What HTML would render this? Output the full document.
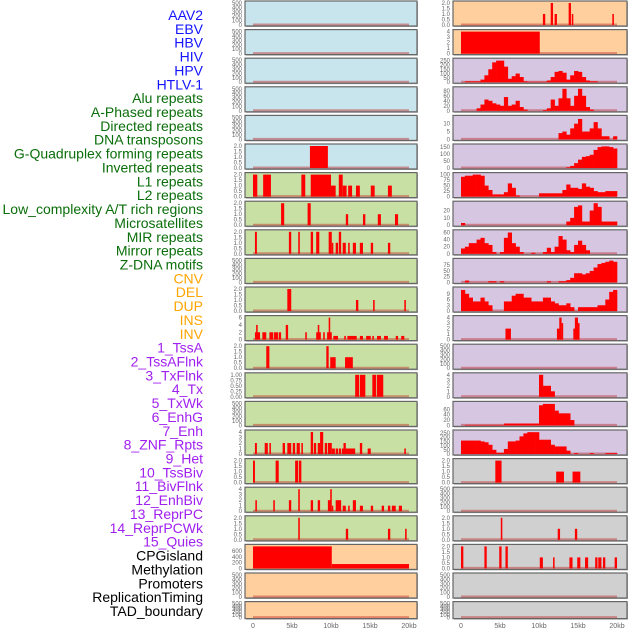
<!DOCTYPE html>
<html><head><meta charset="utf-8"><style>
body{margin:0;width:630px;height:630px;background:#fff;overflow:hidden;font-family:"Liberation Sans",sans-serif}
svg{position:absolute;left:0;top:0}
</style></head><body>
<svg id="chart" width="630" height="630"></svg>
<script>
const labels=["AAV2","EBV","HBV","HIV","HPV","HTLV-1","Alu repeats","A-Phased repeats","Directed repeats","DNA transposons","G-Quadruplex forming repeats","Inverted repeats","L1 repeats","L2 repeats","Low_complexity A/T rich regions","Microsatellites","MIR repeats","Mirror repeats","Z-DNA motifs","CNV","DEL","DUP","INS","INV","1_TssA","2_TssAFlnk","3_TxFlnk","4_Tx","5_TxWk","6_EnhG","7_Enh","8_ZNF_Rpts","9_Het","10_TssBiv","11_BivFlnk","12_EnhBiv","13_ReprPC","14_ReprPCWk","15_Quies","CPGisland","Methylation","Promoters","ReplicationTiming","TAD_boundary"];
const labelColors=["#1414ff","#1414ff","#1414ff","#1414ff","#1414ff","#1414ff","#0a6e0a","#0a6e0a","#0a6e0a","#0a6e0a","#0a6e0a","#0a6e0a","#0a6e0a","#0a6e0a","#0a6e0a","#0a6e0a","#0a6e0a","#0a6e0a","#0a6e0a","#ffa500","#ffa500","#ffa500","#ffa500","#ffa500","#a020f0","#a020f0","#a020f0","#a020f0","#a020f0","#a020f0","#a020f0","#a020f0","#a020f0","#a020f0","#a020f0","#a020f0","#a020f0","#a020f0","#a020f0","#000","#000","#000","#000","#000"];
const xTicks=[0,5,10,15,20];
const xTickLabels=["0","5kb","10kb","15kb","20kb"];
const t500=[0,100,200,300,400,500];
const t2=[0,0.5,1,1.5,2];
const t4=[0,1,2,3,4];
// left column bars [startKb,endKb,value]
const lRow5=[[7.3,9.6,2]];
const lRow6=[[0,0.55,2],[1.3,2.3,2],[6.2,6.7,2],[7.4,10,2],[10,10.6,1],[11,11.5,2],[11.5,12,1],[12.2,12.7,1],[13.2,13.7,1],[15.1,15.6,1],[17.3,17.8,1]];
const lRow7=[[3.6,4.0,2],[7.0,7.4,2],[11.9,12.2,1],[14.1,14.4,1],[16.0,16.4,1],[18.2,18.6,1]];
const lRow8=[[0.25,0.5,2],[4.6,4.9,2],[5.8,6.0,2],[7.4,7.7,2],[8.1,8.5,2],[9.7,10.1,2],[10.1,10.3,1],[10.6,10.9,1],[11,11.3,2],[11.5,11.9,1],[12.2,12.4,1],[12.8,13.2,1],[13.7,14.1,1],[15.1,15.4,1],[17.3,17.6,1]];
const lRow10=[[4.4,4.9,2],[13.2,13.5,1],[15.4,15.6,1],[19.4,19.6,1]];
const lRow11=[[0.25,0.9,2],[0.4,0.6,4],[1.2,1.7,2],[2.1,2.6,2],[2.7,3.2,2],[3.3,3.6,2],[4.2,4.5,4],[6.7,6.9,2],[8.1,8.7,2],[8.3,8.5,4],[9.0,9.2,2],[9.5,10.1,2],[9.7,9.9,6],[10.3,10.9,1],[11.7,11.9,1],[12.1,13.3,1],[13.7,14.1,1],[14.5,15.1,1],[15.3,15.5,1],[15.9,16.4,1],[16.8,17.3,1],[18.3,18.6,1],[19.0,19.4,1]];
const lRow12=[[1.7,2.1,2],[9.4,9.7,2],[9.9,10.6,1],[11.8,12.8,1]];
const lRow13=[[13.1,13.6,1],[13.7,14.4,1],[15.3,15.8,1],[15.9,16.7,1]];
const lRow15=[[0.25,0.5,2],[1.5,1.9,2],[2.1,2.3,2],[3.8,4.1,2],[4.4,4.9,2],[5.1,5.4,2],[5.6,6.0,2],[6.2,6.4,2],[7.4,7.7,4],[7.8,8.1,2],[8.3,8.6,2],[8.6,9.0,4],[9.2,9.5,2],[9.6,10.1,2],[10.1,10.5,1],[10.6,10.9,1],[11,11.3,1],[11.4,13.1,1],[11.6,11.9,2],[13.7,14,2],[14.7,15.1,1],[19.4,19.6,1]];
const lRow16=[[0,0.25,2],[2.9,3.3,2],[5.4,5.8,2],[5.9,6.2,2]];
const lRow17=[[0.3,0.5,2],[2.6,2.8,2],[4.6,4.9,2],[5.8,6.0,4],[7.4,7.7,2],[8.3,8.6,2],[9.6,10,2],[9.9,10.1,4],[10.1,10.3,1],[10.6,11.3,2],[11.5,11.9,1],[12.2,12.4,1],[12.8,13.2,2],[13.7,14.1,1],[15.1,15.4,1],[16.5,16.8,1],[17.3,17.6,1],[17.8,18.3,1],[18.7,19.1,1]];
const lRow18=[[5.8,6.0,2],[11.9,12.2,1],[17.3,17.6,1],[19.5,19.7,1]];
const lRow19=[[0,10.1,760],[10.1,20,150]];
// right column bars
const rRow0=[[10.5,10.8,1],[11.5,11.8,2],[12,12.3,1],[13.8,14.1,2],[14.2,14.4,1],[19.4,19.6,1]];
const rRow1=[[0,10.1,4]];
const rRow11=[[5.7,6.4,2],[12.3,12.9,2],[12.6,12.9,4],[12.9,13.1,3],[14.4,15.0,2],[14.6,15.0,4],[15.0,15.2,3]];
const rRow16=[[4.4,5.2,2],[12.2,13.2,1],[14.3,15.3,1]];
const rRow18=[[5.1,5.3,2],[12.4,12.7,1],[14.6,14.9,1]];
const rRow19=[[0,0.3,2],[3.0,3.3,2],[4.9,5.2,2],[5.7,6.0,2],[10.1,10.5,1],[11.8,12,1],[13.9,14.3,1],[14.9,15.3,1],[15.9,16.3,1],[17.2,17.5,1],[17.6,18,1],[18.2,18.5,1],[19.7,20,1]];
// right column binned profiles (0.5kb bins)
const rRow2=[0,10,10,10,10,30,80,150,230,250,250,180,40,70,100,60,10,5,5,5,5,5,20,60,120,130,110,30,80,130,120,60,20,10,10,0,0,0,0,0];
const rRow3=[0,0,0,0,10,25,45,40,30,25,20,55,20,25,40,15,5,0,0,0,0,3,10,45,20,50,90,50,20,60,90,60,15,5,0,0,0,0,0,0];
const rRow4=[0,0,0,0,0,0,0,0,0,0,0,0,0,0,0,0,0,0,0,0,0,0,0,0,0,4,5,3,7,10,13,5,5,7,11,7,2,2,0,2];
const rRow5=[0,0,0,0,0,0,0,0,0,0,0,0,0,0,0,0,0,0,0,0,0,0,0,0,0,0,0,5,15,35,60,80,85,95,130,150,155,155,150,140];
const rRow6=[90,95,95,100,100,95,50,30,10,10,10,20,60,40,5,0,0,0,0,0,15,15,15,15,15,15,30,55,40,40,35,60,45,40,25,20,20,25,25,25];
const rRow7=[3,0,0,0,0,0,0,0,0,0,0,0,0,0,0,0,0,0,0,0,0,0,0,0,0,0,0,5,10,25,27,5,5,20,30,25,5,5,5,5];
const rRow8=[15,20,30,30,40,45,30,25,5,0,5,45,60,30,20,5,0,0,3,0,0,5,17,5,20,50,40,10,5,25,37,25,10,0,0,0,0,0,0,0];
const rRow9=[0,8,0,0,0,0,0,5,5,0,5,0,0,0,0,0,0,0,0,0,0,0,5,0,0,5,5,10,20,40,40,35,40,50,65,80,85,90,95,90];
const rRow10=[11,9,7,5,5,7,5,3,0,0,0,5,5,8,9,9,7,7,5,5,5,7,7,5,4,3,3,4,2,0,2,2,2,2,2,3,3,6,10,11];
const rRow13=[0,0,0,0,0,0,0,0,0,0,0,0,0,0,0,0,0,0,0,0,4,2,2,1,0,0,0,0,0,0,0,0,0,0,0,0,0,0,0,0];
const rRow14=[0,2,2,2,2,2,2,2,2,2,2,7,7,7,7,7,7,7,7,7,75,80,80,80,55,45,45,45,20,0,0,0,0,0,0,0,0,0,0,0];
const rRow15=[160,160,160,160,160,150,140,110,50,15,15,60,150,150,160,210,245,260,260,260,170,170,170,110,90,90,90,40,0,10,0,0,0,10,0,0,0,10,10,10];

const BLUE="#c8e4ec",GREEN="#c8e0a4",ORANGE="#ffd09e",PURPLE="#d6c6e2",GRAY="#d0d0d0";
const panels=[
{c:0,r:0,bg:BLUE,t:t500,m:500},{c:0,r:1,bg:BLUE,t:t500,m:500},{c:0,r:2,bg:BLUE,t:t500,m:500},{c:0,r:3,bg:BLUE,t:t500,m:500},{c:0,r:4,bg:BLUE,t:t500,m:500},
{c:0,r:5,bg:BLUE,t:t2,m:2,bars:lRow5},{c:0,r:6,bg:GREEN,t:t2,m:2,bars:lRow6},{c:0,r:7,bg:GREEN,t:t2,m:2,bars:lRow7},{c:0,r:8,bg:GREEN,t:t2,m:2,bars:lRow8},
{c:0,r:9,bg:GREEN,t:t500,m:500},{c:0,r:10,bg:GREEN,t:t2,m:2,bars:lRow10},{c:0,r:11,bg:GREEN,t:[0,2,4,6],m:6,bars:lRow11},{c:0,r:12,bg:GREEN,t:t2,m:2,bars:lRow12},
{c:0,r:13,bg:GREEN,t:[0,0.25,0.5,0.75,1],m:1,d:2,bars:lRow13},{c:0,r:14,bg:GREEN,t:t500,m:500},{c:0,r:15,bg:GREEN,t:t4,m:4,bars:lRow15},{c:0,r:16,bg:GREEN,t:t2,m:2,bars:lRow16},
{c:0,r:17,bg:GREEN,t:t4,m:4,bars:lRow17},{c:0,r:18,bg:GREEN,t:t2,m:2,bars:lRow18},{c:0,r:19,bg:ORANGE,t:[0,200,400,600],m:760,bars:lRow19},{c:0,r:20,bg:ORANGE,t:t500,m:500},{c:0,r:21,bg:ORANGE,t:t500,m:500},
{c:1,r:0,bg:ORANGE,t:t2,m:2,bars:rRow0},{c:1,r:1,bg:ORANGE,t:t4,m:4,bars:rRow1},{c:1,r:2,bg:PURPLE,t:[0,50,100,150,200,250],m:255,bins:rRow2},
{c:1,r:3,bg:PURPLE,t:[0,20,40,60,80],m:88,bins:rRow3},{c:1,r:4,bg:PURPLE,t:[0,5,10],m:14,bins:rRow4},{c:1,r:5,bg:PURPLE,t:[0,50,100,150],m:158,bins:rRow5},
{c:1,r:6,bg:PURPLE,t:[0,25,50,75,100],m:100,bins:rRow6},{c:1,r:7,bg:PURPLE,t:[0,10,20],m:30,bins:rRow7},{c:1,r:8,bg:PURPLE,t:[0,20,40,60],m:62,bins:rRow8},
{c:1,r:9,bg:PURPLE,t:[0,25,50,75],m:96,bins:rRow9},{c:1,r:10,bg:PURPLE,t:[0,3,6,9],m:11.5,bins:rRow10},{c:1,r:11,bg:PURPLE,t:t4,m:4,bars:rRow11},
{c:1,r:12,bg:PURPLE,t:t500,m:500},{c:1,r:13,bg:PURPLE,t:t4,m:4,bins:rRow13},{c:1,r:14,bg:PURPLE,t:[0,20,40,60],m:82,bins:rRow14},{c:1,r:15,bg:PURPLE,t:[0,50,100,150,200,250],m:262,bins:rRow15},
{c:1,r:16,bg:GRAY,t:t2,m:2,bars:rRow16},{c:1,r:17,bg:GRAY,t:t500,m:500},{c:1,r:18,bg:GRAY,t:t2,m:2,bars:rRow18},{c:1,r:19,bg:GRAY,t:t2,m:2,bars:rRow19},
{c:1,r:20,bg:GRAY,t:t500,m:500},{c:1,r:21,bg:GRAY,t:t500,m:500}
];
const NS="http://www.w3.org/2000/svg";
const svg=document.getElementById('chart');
function mk(tag,attrs,parent){const e=document.createElementNS(NS,tag);for(const k in attrs)e.setAttribute(k,attrs[k]);(parent||svg).appendChild(e);return e;}
// labels
labels.forEach((s,i)=>{
  const t=mk('text',{x:203,y:20+i*13.86,'text-anchor':'end','font-size':'14',fill:labelColors[i]});
  t.textContent=s;
  
  
});
const colX=[245,453],colW=[172,174],x0=[253,461],kbPx=7.8;
function xs(c,kb){return x0[c]+kb*kbPx;}
panels.forEach(p=>{
  const top=1+28.6*p.r, h=p.r===21?17:25, left=colX[p.c], w=colW[p.c];
  const g=mk('g',{});
  
  
  mk('rect',{x:left+1,y:top+1,width:w,height:h,fill:'#aaa'},g);
  mk('rect',{x:left,y:top,width:w,height:h,fill:p.bg,stroke:'#666','stroke-width':1.2},g);
  const bot=top+h-1, span=h-3;
  const ys=v=>bot-(v/p.m)*span;
  // ticks
  p.t.forEach(v=>{
    const tt=mk('text',{x:left-3,y:ys(v)+2,'text-anchor':'end','font-size':'6',fill:'#666'},g);
    tt.textContent=p.m<=6||p.d?v.toFixed(p.d||1):String(v);
    if(p.t===t4||p.m===6) tt.textContent=String(v);
    
    
  });
  mk('line',{x1:xs(p.c,0),x2:xs(p.c,20),y1:bot-0.5,y2:bot-0.5,stroke:'rgba(190,40,40,0.45)','stroke-width':2},g);
  if(p.bars)p.bars.forEach(b=>{
    const r=mk('rect',{x:xs(p.c,b[0]),width:Math.max(1.5,(b[1]-b[0])*kbPx),y:ys(Math.min(b[2],p.m)),height:bot-ys(Math.min(b[2],p.m)),fill:'#ff0000'},g);
    
    
  });
  if(p.bins)p.bins.forEach((v,i)=>{
    if(!v)return;
    const r=mk('rect',{x:xs(p.c,i*0.5),width:0.5*kbPx+0.3,y:ys(Math.min(v,p.m)),height:bot-ys(Math.min(v,p.m)),fill:'#ff0000'},g);
    
    
  });
});
[0,1].forEach(c=>{
  xTicks.forEach((v,i)=>{
    const t=mk('text',{x:xs(c,v),y:628,'text-anchor':'middle','font-size':'7',fill:'#666'});
    t.textContent=xTickLabels[i];
    
    
  });
});
</script>
</body></html>
